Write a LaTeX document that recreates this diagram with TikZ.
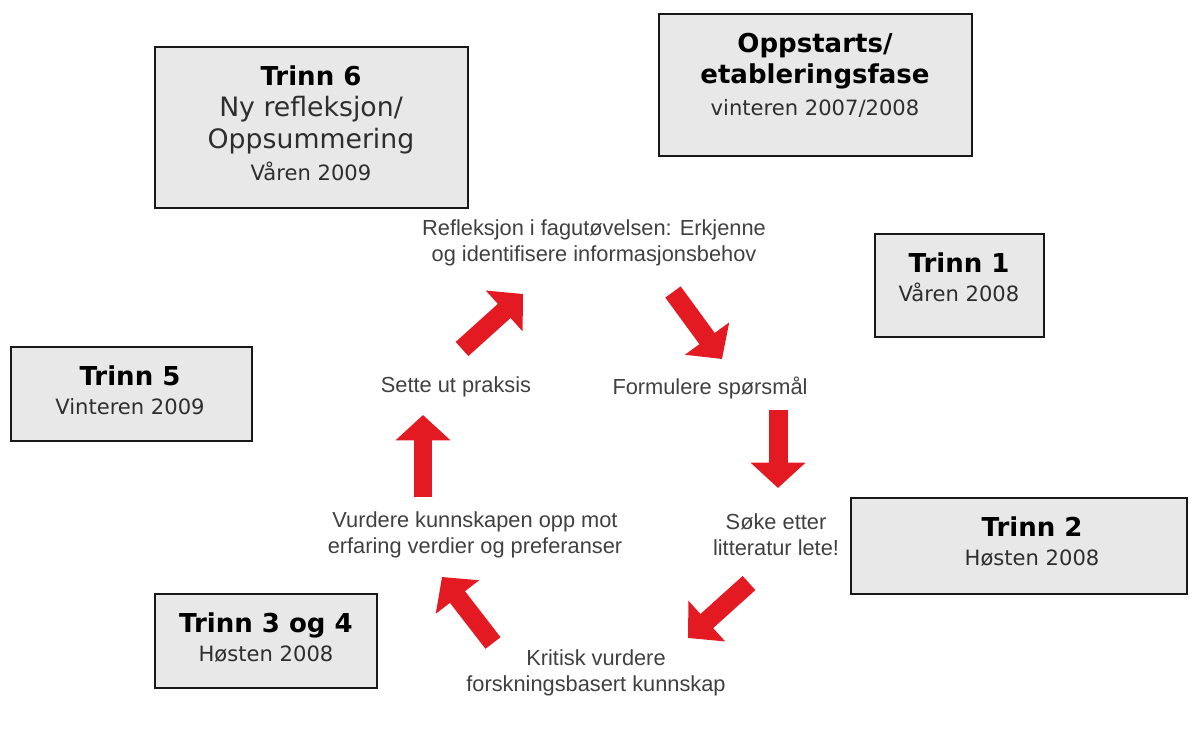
\documentclass[tikz,border=0pt]{standalone}
\usepackage{fontspec}
\setmainfont{DejaVu Sans}
\newfontfamily\syklusfont{Liberation Sans}
\usetikzlibrary{arrows.meta}
\definecolor{pilrod}{RGB}{227,26,33}
\definecolor{boksgraa}{RGB}{232,232,232}
\newcommand{\tittel}[1]{{\color{black}\bfseries\fontsize{18.5}{21}\selectfont #1}}

\begin{document}
\begin{tikzpicture}[%
    x=0.025cm,
    y=-0.025cm,
    fase/.style={%
      rectangle,
      draw=black!90,
      line width=1.3pt,
      fill=boksgraa
    },
    fasetekst/.style={%
      align=center,
      text=black!82,
      font=\fontsize{15}{20.5}\selectfont
    },
    syklus/.style={%
      align=center,
      text=black!75,
      font=\syklusfont\fontsize{15.5}{18.5}\selectfont
    },
    pil/.style={%
      draw=pilrod,
      line width=13.5pt,
      -{Triangle[length=18pt,width=38pt]}
    }
  ]
  \useasboundingbox (0,0) rectangle (1200,753);

  \node[fase, minimum width=7.825cm, minimum height=4.025cm] (b6)  at (311.5,127.5) {};
  \node[fase, minimum width=7.825cm, minimum height=3.55cm]  (b0)  at (815.5,85)    {};
  \node[fase, minimum width=4.225cm, minimum height=2.575cm] (b1)  at (959.5,285.5) {};
  \node[fase, minimum width=6.025cm, minimum height=2.35cm]  (b5)  at (131.5,394)   {};
  \node[fase, minimum width=8.4cm,   minimum height=2.4cm]   (b2)  at (1019,546)    {};
  \node[fase, minimum width=5.55cm,  minimum height=2.35cm]  (b34) at (266,641)     {};

  \node[fasetekst, font=\fontsize{15}{22.5}\selectfont] (t6) at (311,123)
    {\tittel{Trinn 6}\\{\fontsize{19}{22}\selectfont Ny refleksjon/}\\{\fontsize{19}{22}\selectfont Oppsummering}\\Våren 2009};
  \node[fasetekst, font=\fontsize{15}{22.5}\selectfont] (t0) at (815,75)
    {\tittel{Oppstarts/}\\\tittel{etableringsfase}\\vinteren 2007/2008};
  \node[fasetekst] (t1)  at (959,277.5)  {\tittel{Trinn 1}\\Våren 2008};
  \node[fasetekst] (t5)  at (130,390.5)  {\tittel{Trinn 5}\\Vinteren 2009};
  \node[fasetekst] (t2)  at (1032,541.5) {\tittel{Trinn 2}\\Høsten 2008};
  \node[fasetekst] (t34) at (266,637.5)  {\tittel{Trinn 3 og 4}\\Høsten 2008};

  \node[syklus] (refleksjon) at (594,243)   {Refleksjon i fagutøvelsen: Erkjenne\\og identifisere informasjonsbehov};
  \node[syklus] (formulere)  at (710,388)   {Formulere spørsmål};
  \node[syklus] (soke)       at (776,534.5) {Søke etter\\litteratur lete!};
  \node[syklus] (kritisk)    at (596,672.5) {Kritisk vurdere\\forskningsbasert kunnskap};
  \node[syklus] (vurdere)    at (475,534.5) {Vurdere kunnskapen opp mot\\erfaring verdier og preferanser};
  \node[syklus] (praksis)    at (456,387)   {Sette ut praksis};

  \coordinate (p1a) at (462,349);
  \coordinate (p1b) at (523,294);
  \coordinate (p2a) at (673,292);
  \coordinate (p2b) at (722,359);
  \coordinate (p3a) at (778,410);
  \coordinate (p3b) at (778,488);
  \coordinate (p4a) at (749,583);
  \coordinate (p4b) at (688,638);
  \coordinate (p5a) at (493,643);
  \coordinate (p5b) at (442,577);
  \coordinate (p6a) at (423,497);
  \coordinate (p6b) at (423,415);

  \path (p1a) edge[pil] (p1b)
        (p2a) edge[pil] (p2b)
        (p3a) edge[pil] (p3b)
        (p4a) edge[pil] (p4b)
        (p5a) edge[pil] (p5b)
        (p6a) edge[pil] (p6b);
\end{tikzpicture}
\end{document}
